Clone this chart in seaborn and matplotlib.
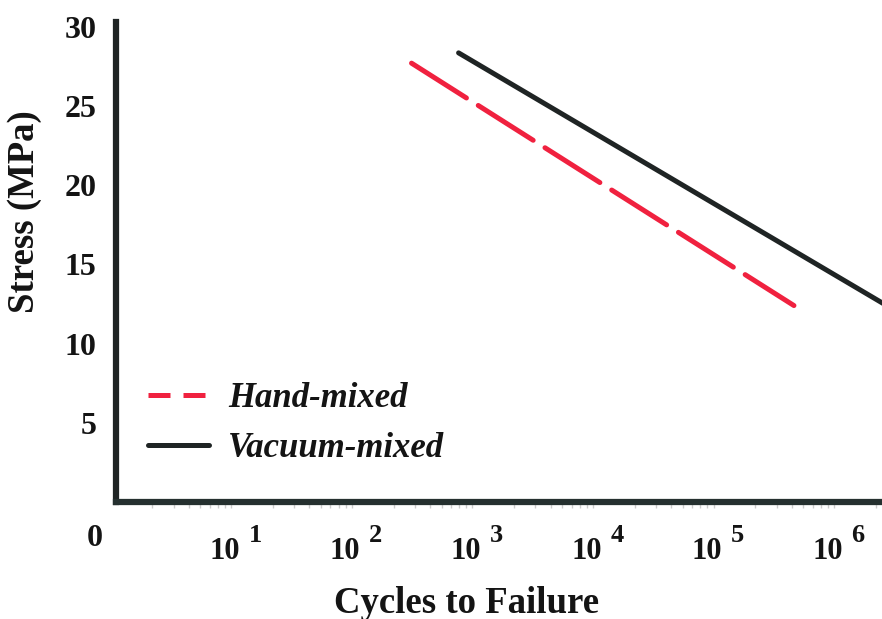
import numpy as np
import pandas as pd
import matplotlib
matplotlib.use("Agg")
import matplotlib.pyplot as plt
from matplotlib.lines import Line2D
from matplotlib.transforms import ScaledTranslation
from matplotlib.ticker import FixedLocator, FixedFormatter, LogLocator, NullFormatter
import seaborn as sns

# S-N curves: cycles to failure vs. stress amplitude
series = ["Hand-mixed", "Vacuum-mixed"]
hand_cycles = [10 ** 2.45, 10 ** 5.62]
hand_stress = [27.7, 12.4]
vacuum_cycles = [10 ** 2.84, 10 ** 6.40]
vacuum_stress = [28.35, 12.35]

x_exponents = [1, 2, 3, 4, 5, 6]
y_ticks = [5, 10, 15, 20, 25, 30]

sns.set_theme(style="white")
plt.rcParams["font.family"] = ["Liberation Serif", "DejaVu Serif"]

df = pd.DataFrame({
    "cycles": hand_cycles + vacuum_cycles,
    "stress": hand_stress + vacuum_stress,
    "mix": [series[0]] * len(hand_cycles) + [series[1]] * len(vacuum_cycles),
})

red = "#f0213f"
dark = "#1f2424"
ink = "#141414"

fig = plt.figure(figsize=(8.82, 6.19), dpi=100)
ax = fig.add_axes([0.1315, 0.189, 1.0 - 0.1315, 0.9645 - 0.189])

sns.lineplot(data=df, x="cycles", y="stress", hue="mix", style="mix",
             palette={series[0]: red, series[1]: dark},
             dashes={series[0]: (13, 2.8), series[1]: ""},
             linewidth=3.6, legend=False, ax=ax)
for ln in ax.get_lines():
    ln.set_solid_capstyle("round")
    ln.set_dash_capstyle("round")

ax.set_xscale("log")
ax.set_xlim(1, 10 ** 6.35)
ax.set_ylim(0, 30.3)

x_ticks = [10.0 ** k for k in x_exponents]
ax.xaxis.set_major_locator(FixedLocator(x_ticks))
ax.xaxis.set_major_formatter(FixedFormatter(["10"] * len(x_ticks)))
ax.xaxis.set_minor_locator(LogLocator(base=10, subs=np.arange(2, 10)))
ax.xaxis.set_minor_formatter(NullFormatter())
ax.yaxis.set_major_locator(FixedLocator(y_ticks))

ax.tick_params(axis="x", which="major", direction="out", length=4, width=1,
               color="#bbbbbb", pad=21, labelsize=22)
ax.tick_params(axis="x", which="minor", direction="out", length=4, width=1,
               color="#cccccc", bottom=True)
ax.tick_params(axis="y", which="major", direction="out", length=3, width=1.5,
               color=dark, pad=11, labelsize=23)
for lab in ax.get_yticklabels() + ax.get_xticklabels():
    lab.set_fontweight("bold")
    lab.set_color(ink)

# shift the "10" bases left so base + exponent sit centred on each decade
shift = ScaledTranslation(-12 / 100, 0, fig.dpi_scale_trans)
for lab in ax.get_xticklabels():
    lab.set_transform(lab.get_transform() + shift)

for xt, k in zip(x_ticks, x_exponents):
    ax.annotate(str(k), xy=(xt, 0), xycoords=("data", "axes fraction"),
                xytext=(8.5, -24), textcoords="offset points",
                ha="left", va="center", fontsize=19, fontweight="bold", color=ink)

for side in ["top", "right"]:
    ax.spines[side].set_visible(False)
ax.spines["left"].set_linewidth(4.5)
ax.spines["left"].set_color(dark)
ax.spines["bottom"].set_linewidth(4.5)
ax.spines["bottom"].set_color("#25302f")

ax.set_xlabel("Cycles to Failure", fontsize=26.5, fontweight="bold", color=ink)
ax.set_ylabel("Stress (MPa)", fontsize=26.5, fontweight="bold", color=ink)
ax.xaxis.set_label_coords(0.458, -0.174)
ax.yaxis.set_label_coords(-0.097, 0.604)

# origin label below the axes corner
ax.text(-0.028, -0.075, "0", transform=ax.transAxes, ha="center", va="center",
        fontsize=23, fontweight="bold", color=ink)

handles = [
    Line2D([], [], color=red, linewidth=3.6, dashes=(4.4, 2.6), dash_capstyle="butt"),
    Line2D([], [], color=dark, linewidth=3.6),
]
leg = ax.legend(handles, series, loc="lower left", bbox_to_anchor=(0.01, 0.027),
                frameon=False, handlelength=1.75, handletextpad=0.55,
                labelspacing=0.48, borderpad=0.2,
                prop={"size": 25, "style": "italic", "weight": "bold"})
for t in leg.get_texts():
    t.set_color(ink)

fig.savefig("out.png", dpi=100, facecolor="white")
